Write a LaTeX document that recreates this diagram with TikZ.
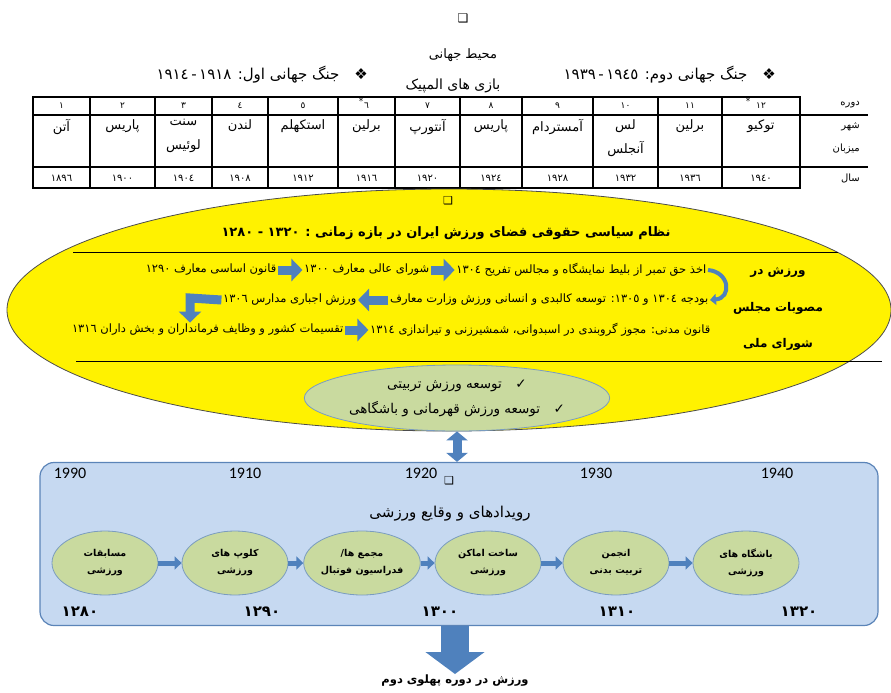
\documentclass[tikz,border=0pt]{standalone}
\usepackage{fontspec}
\setmainfont{DejaVu Sans}
\newfontfamily\fa[Script=Arabic]{DejaVu Sans}
\newfontfamily\lat{Carlito}
\newfontfamily\sym{DejaVu Sans}
\TeXXeTstate=1
\newcommand{\rl}[1]{\beginR #1\endR}
\usetikzlibrary{shapes.geometric,arrows.meta}
\definecolor{arrblue}{HTML}{4F81BD}
\definecolor{boxfill}{HTML}{C6D9F1}
\definecolor{boxedge}{HTML}{5B84B8}
\definecolor{pillfill}{HTML}{C9DA9F}
\definecolor{pilledge}{HTML}{7A9CC0}
\begin{document}
\begin{tikzpicture}[x=1pt,y=-1pt,
    fa/.style={inner sep=1pt,font=\fa\fontsize{13}{15}\selectfont},
    fatitle/.style={inner sep=1pt,font=\fa\bfseries\fontsize{13}{15}\selectfont},
    tbl/.style={line width=1.3pt},
    cell/.style={inner sep=0pt,font=\fa\fontsize{13}{24}\selectfont,align=center},
    small/.style={inner sep=0pt,font=\fa\fontsize{9}{10}\selectfont},
    rowtxt/.style={inner sep=1.5pt,anchor=east,font=\fa\fontsize{11.5}{13}\selectfont},
    blockarr/.style={arrblue,line width=9pt,line join=miter,-{Triangle[length=11pt,width=22pt]}},
    smallarr/.style={arrblue,line width=5pt,-{Triangle[length=7pt,width=13pt]}},
    bigarr/.style={arrblue,line width=28pt,-{Triangle[length=22pt,width=58pt]}},
    pill/.style={ellipse,draw=pilledge,fill=pillfill,line width=0.8pt,minimum width=106pt,
      minimum height=64pt,inner sep=0pt,align=center,font=\fa\bfseries\fontsize{9.5}{17}\selectfont},
    latyear/.style={font=\lat\fontsize{16}{18}\selectfont},
    fayear/.style={font=\fa\bfseries\fontsize{15}{17}\selectfont},
    glyph/.style={font=\sym\fontsize{11}{12}\selectfont,inner sep=0pt}]
\useasboundingbox (0,0) rectangle (891,693);

% world scene
\node[glyph,font=\sym\bfseries\fontsize{12}{13}\selectfont] (sqa) at (463,18) {❑};
\node[fa] (world) at (463,55) {\rl{محیط جهانی}};
\node[fa,font=\fa\fontsize{14}{16}\selectfont] (olympics) at (453,86) {\rl{بازی های المپیک}};
\node[fa,anchor=east,font=\fa\fontsize{15}{17}\selectfont] (wartwo) at (777,75) {\rl{❖\quad جنگ جهانی دوم: \beginL١٩٣٩\,-\,١٩٤٥\endL}};
\node[fa,anchor=east,font=\fa\fontsize{15}{17}\selectfont] (warone) at (369,75) {\rl{❖\quad جنگ جهانی اول: \beginL١٩١٤\,-\,١٩١٨\endL}};

% table of games
\draw[tbl] (33,97) rectangle (800,188);
\draw[tbl] (33,115) -- (868,115);
\draw[tbl] (33,167) -- (868,167);
\foreach \x in {90,155,212,268,338,395,460,522,593,658,722}
  \draw[tbl] (\x,97) -- (\x,188);
\foreach \k/\a/\b/\n/\c/\y in {1/33/90/١/{\rl{آتن}}/١٨٩٦,
    2/90/155/٢/{\rl{پاریس}}/١٩٠٠,
    3/155/212/٣/{\rl{سنت}\\\rl{لوئیس}}/١٩٠٤,
    4/212/268/٤/{\rl{لندن}}/١٩٠٨,
    5/268/338/٥/{\rl{استکهلم}}/١٩١٢,
    6/338/395/٦/{\rl{برلین}}/١٩١٦,
    7/395/460/٧/{\rl{آنتورپ}}/١٩٢٠,
    8/460/522/٨/{\rl{پاریس}}/١٩٢٤,
    9/522/593/٩/{\rl{آمستردام}}/١٩٢٨,
    10/593/658/١٠/{\rl{لس}\\\rl{آنجلس}}/١٩٣٢,
    11/658/722/١١/{\rl{برلین}}/١٩٣٦,
    12/722/800/١٢/{\rl{توکیو}}/١٩٤٠}{
  \node[small] (num\k) at ({(\a+\b)/2},106) {\n};
  \node[cell,anchor=north] (city\k) at ({(\a+\b)/2},119) {\c};
  \node[small,font=\fa\fontsize{10}{11}\selectfont] (year\k) at ({(\a+\b)/2},178) {\y};
}
\node[small] (starsix) at (361,101) {*};
\node[small] (startwelve) at (748,101) {*};
\node[small,anchor=east,font=\fa\fontsize{10}{11}\selectfont] (lperiod) at (860,105) {\rl{دوره}};
\node[small,anchor=east,font=\fa\fontsize{10}{11}\selectfont] (lcity) at (860,127) {\rl{شهر}};
\node[small,anchor=east,font=\fa\fontsize{10}{11}\selectfont] (lhost) at (860,149) {\rl{میزبان}};
\node[small,anchor=east,font=\fa\fontsize{10}{11}\selectfont] (lyear) at (860,178) {\rl{سال}};

% legal space of sport
\node[ellipse,fill=yellow,draw=black!70,line width=0.8pt,minimum width=884pt,minimum height=242pt] (space) at (449,310) {};
\node[glyph,font=\sym\bfseries\fontsize{11}{12}\selectfont] (sqb) at (448,201) {❑};
\node[fatitle] (spacetitle) at (446,233) {\rl{نظام سیاسی حقوقی فضای ورزش ایران در بازه زمانی : ١٣٢٠ - ١٢٨٠}};
\draw[line width=1pt] (73,252) -- (838,252);
\draw[line width=1pt] (76,361) -- (882,361);
\node[fatitle,font=\fa\bfseries\fontsize{12}{14}\selectfont] (asma) at (778,272) {\rl{ورزش در}};
\node[fatitle,font=\fa\bfseries\fontsize{12}{14}\selectfont] (asmb) at (778,308) {\rl{مصوبات مجلس}};
\node[fatitle,font=\fa\bfseries\fontsize{12}{14}\selectfont] (asmc) at (778,344) {\rl{شورای ملی}};

\node[rowtxt] (stamp) at (708,270) {\rl{اخذ حق تمبر از بلیط نمایشگاه و مجالس تفریح ١٣٠٤}};
\node[rowtxt] (council) at (431,270) {\rl{شورای عالی معارف ١٣٠٠}};
\node[rowtxt] (law90) at (278,270) {\rl{قانون اساسی معارف ١٢٩٠}};
\node[rowtxt] (budget) at (710,300) {\rl{بودجه ١٣٠٤ و ١٣٠٥: توسعه کالبدی و انسانی ورزش وزارت معارف}};
\node[rowtxt] (schoolpe) at (358,300) {\rl{ورزش اجباری مدارس ١٣٠٦}};
\node[rowtxt] (civil) at (712,330) {\rl{قانون مدنی: مجوز گروبندی در اسبدوانی، شمشیرزنی و تیراندازی ١٣١٤}};
\node[rowtxt] (divisions) at (345,330) {\rl{تقسیمات کشور و وظایف فرمانداران و بخش داران ١٣١٦}};
\coordinate (bend) at (190,298);

\draw[blockarr] (law90) -- (council);
\draw[blockarr] (council) -- (stamp);
\draw[arrblue,line width=4pt,-{Triangle[length=6pt,width=11pt]}] (stamp.east)
  .. controls +(22,2) and +(22,-2) .. (budget.east);
\draw[blockarr] (budget) -- (schoolpe);
\draw[blockarr] (schoolpe.west) -- (bend) -- (bend |- divisions.north);
\draw[blockarr] (divisions) -- (civil);

% goals
\node[ellipse,draw=pilledge,fill=pillfill,line width=0.8pt,minimum width=280pt,minimum height=66pt,
  inner sep=0pt,align=center,font=\fa\fontsize{13.5}{25}\selectfont] (goals) at (457,398)
  {\rl{✓\quad توسعه ورزش تربیتی}\\\rl{✓\quad توسعه ورزش قهرمانی و باشگاهی}};

% sport events
\node[draw=boxedge,fill=boxfill,line width=1.2pt,rounded corners=14pt,minimum width=838pt,minimum height=163pt] (events) at (459,544) {};
\draw[arrblue,line width=9pt,{Triangle[length=9pt,width=21pt]}-{Triangle[length=9pt,width=21pt]}] (goals.south) -- (goals.south |- events.north);
\node[glyph,font=\sym\bfseries\fontsize{11}{12}\selectfont] (sqc) at (449,481) {❑};
\node[fa,font=\fa\fontsize{15}{17}\selectfont] (eventstitle) at (450,514) {\rl{رویدادهای و وقایع ورزشی}};
\foreach \k/\x/\g in {1/70/1990,2/245/1910,3/421/1920,4/596/1930,5/777/1940}
  \node[latyear] (greg\k) at (\x,473) {\g};
\foreach \k/\x/\s in {1/80/١٢٨٠,2/262/١٢٩٠,3/440/١٣٠٠,4/617/١٣١٠,5/799/١٣٢٠}
  \node[fayear] (solar\k) at (\x,612) {\s};
\foreach \k/\x/\t in {1/105/{\rl{مسابقات}\\\rl{ورزشی}},
    2/235/{\rl{کلوپ های}\\\rl{ورزشی}},
    3/362/{\rl{مجمع ها/}\\\rl{فدراسیون فوتبال}},
    4/488/{\rl{ساخت اماکن}\\\rl{ورزشی}},
    5/616/{\rl{انجمن}\\\rl{تربیت بدنی}},
    6/746/{\rl{باشگاه های}\\\rl{ورزشی}}}
  \node[pill] (ev\k) at (\x,563) {\t};
\foreach \a/\b in {1/2,2/3,3/4,4/5,5/6}
  \draw[smallarr] (ev\a) -- (ev\b);

% second pahlavi
\node[fa,font=\fa\bfseries\fontsize{11.5}{14}\selectfont] (pahlavi) at (455,681) {\rl{ورزش در دوره پهلوی دوم}};
\draw[bigarr] (pahlavi.north |- events.south) -- (pahlavi.north);
\end{tikzpicture}
\end{document}
